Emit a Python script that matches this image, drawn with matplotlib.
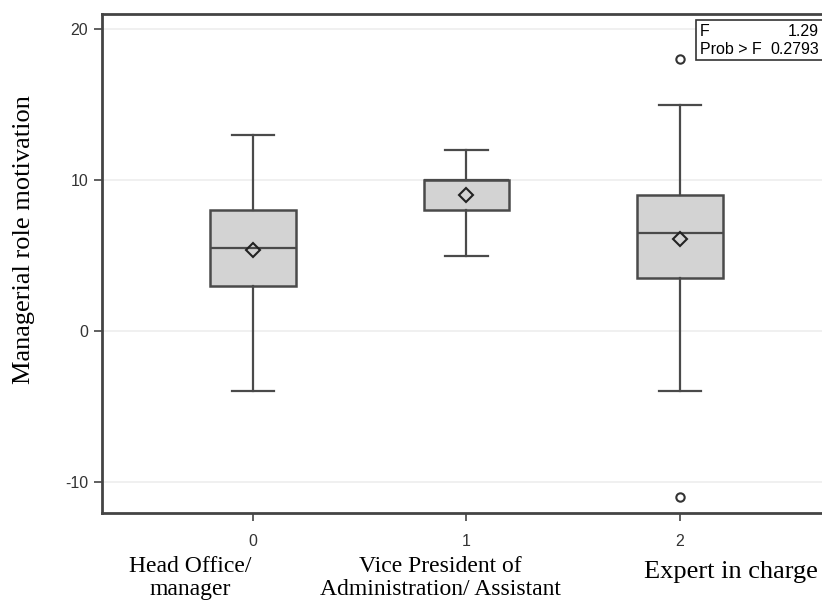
import matplotlib
matplotlib.use("Agg")
import matplotlib.pyplot as plt
from matplotlib.patches import Rectangle

plt.rcParams['axes.unicode_minus'] = False

# ---- data ----
groups = [0, 1, 2]
category_labels = ["Head Office/\nmanager", "Vice President of\nAdministration/ Assistant", "Expert in charge"]
q1 = [3.0, 8.0, 3.5]
median = [5.5, 10.0, 6.5]
q3 = [8.0, 10.0, 9.0]
whisker_low = [-4.0, 5.0, -4.0]
whisker_high = [13.0, 12.0, 15.0]
means = [5.4, 9.0, 6.1]
outliers = [[], [], [18.0, -11.0]]
yticks = [-10, 0, 10, 20]
f_value = "1.29"
p_value = "0.2793"
ylabel = "Managerial role motivation"

W, H = 822, 604
fig = plt.figure(figsize=(W / 100, H / 100), dpi=100)
fig.patch.set_facecolor("white")

left, right, top, bottom = 102, 822, 14, 513
ax = fig.add_axes([left / W, 1 - bottom / H, (right - left) / W, (bottom - top) / H])

stats = []
for i in range(len(groups)):
    stats.append(dict(med=median[i], q1=q1[i], q3=q3[i], whislo=whisker_low[i],
                      whishi=whisker_high[i], mean=means[i], fliers=outliers[i]))

edge = "#4a4a4a"
ax.bxp(stats, positions=groups, widths=0.40, showmeans=True, patch_artist=True,
       boxprops=dict(facecolor="#d3d3d3", edgecolor=edge, linewidth=1.8),
       medianprops=dict(color=edge, linewidth=1.6),
       whiskerprops=dict(color=edge, linewidth=1.6),
       capprops=dict(color=edge, linewidth=1.6),
       capwidths=0.2,
       meanprops=dict(marker="D", markerfacecolor="none", markeredgecolor="#222222",
                      markersize=7.5, markeredgewidth=1.5),
       flierprops=dict(marker="o", markerfacecolor="none", markeredgecolor="#333333",
                       markersize=6, markeredgewidth=1.5))

xlo = -0.707
xhi = xlo + (right - left) / 213.5
ax.set_xlim(xlo, xhi)
ax.set_ylim(-12.05, 21.0)

ax.set_yticks(yticks)
ax.set_yticklabels([str(t) for t in yticks])
ax.set_xticks(groups)
ax.set_xticklabels([str(g) for g in groups])
ax.yaxis.grid(True, color="#eeeeee", linewidth=1.2)
ax.set_axisbelow(True)

for s in ["left", "bottom", "top"]:
    ax.spines[s].set_color("#444444")
    ax.spines[s].set_linewidth(2.0)
ax.spines["right"].set_visible(False)

ax.tick_params(axis="both", direction="out", length=6, width=1.2, color="#444444",
               labelsize=11.5, labelcolor="#333333", pad=4)
for lab in ax.get_xticklabels() + ax.get_yticklabels():
    lab.set_family("Liberation Sans")
ax.tick_params(axis="x", pad=9)

# F-test box
ax.add_patch(Rectangle((696 / W, 1 - 60 / H), (W - 696 + 10) / W, (60 - 20) / H,
                       transform=fig.transFigure, facecolor="white", edgecolor="#333333",
                       linewidth=1.2, clip_on=False, zorder=5))
fs_box = 11.5
fig.text(700 / W, 1 - 31 / H, "F", ha="left", va="center", fontsize=fs_box,
         family="Liberation Sans", zorder=6)
fig.text(819 / W, 1 - 31 / H, f_value, ha="right", va="center", fontsize=fs_box,
         family="Liberation Sans", zorder=6)
fig.text(700 / W, 1 - 49 / H, "Prob > F", ha="left", va="center", fontsize=fs_box,
         family="Liberation Sans", zorder=6)
fig.text(819 / W, 1 - 49 / H, p_value, ha="right", va="center", fontsize=fs_box,
         family="Liberation Sans", zorder=6)

# y label
fig.text(24 / W, 1 - 240 / H, ylabel, rotation=90, ha="center", va="center",
         fontsize=19, family="Liberation Serif")

# category labels
cat_x = [190, 440, 731]
cat_y = [578, 578, 572]
cat_fs = [17, 17, 19]
for x, y, t, fs in zip(cat_x, cat_y, category_labels, cat_fs):
    fig.text(x / W, 1 - y / H, t, ha="center", va="center", fontsize=fs,
             family="Liberation Serif", linespacing=1.15)

fig.savefig("out.png", dpi=100, facecolor="white")
